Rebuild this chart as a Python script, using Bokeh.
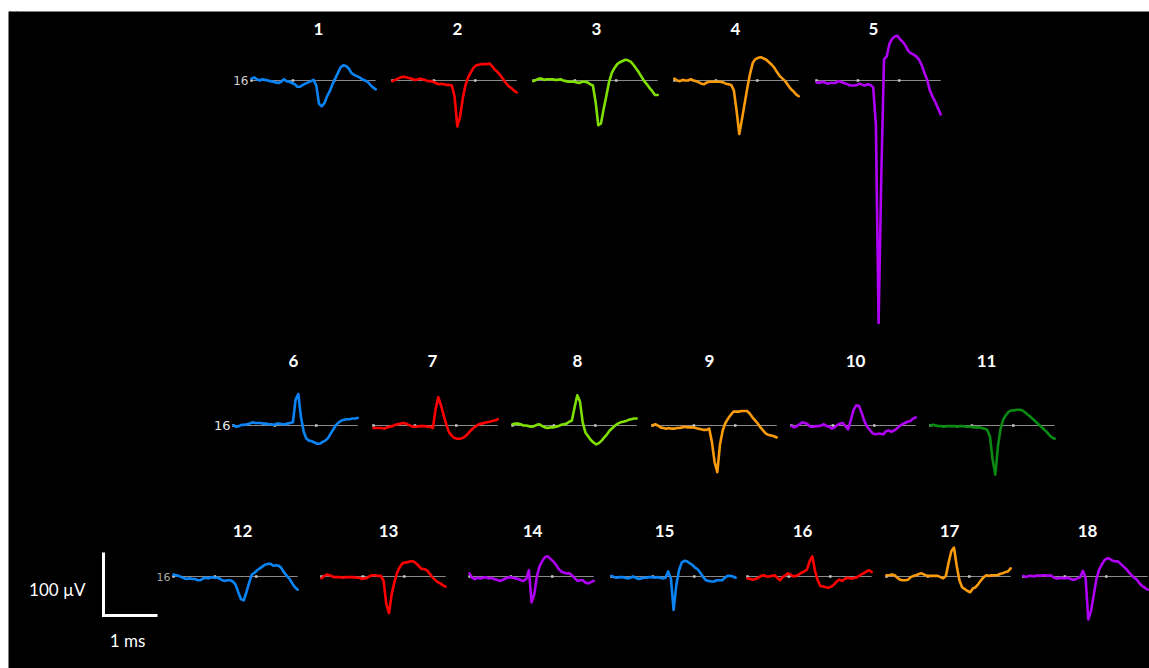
import numpy as np
from bokeh.plotting import figure
from bokeh.models import ColumnDataSource, Range1d, Label
from bokeh.core.properties import value
from bokeh.embed import file_html
from bokeh.resources import INLINE

# ---------------------------------------------------------------
# Mean spike waveforms of 18 sorted units (channel 16), in µV,
# sampled every 0.05 ms.
# ---------------------------------------------------------------
DT_MS = 0.05

unit_labels = [str(i) for i in range(1, 19)]

BLUE, RED, LIME, ORANGE, PURPLE, GREEN = (
    "#0a84f5", "#ff0000", "#7fe000", "#f99b0c", "#b000f5", "#0a8a12")
unit_colors = [BLUE, RED, LIME, ORANGE, PURPLE,
               BLUE, RED, LIME, ORANGE, PURPLE, GREEN,
               BLUE, RED, PURPLE, BLUE, RED, ORANGE, PURPLE]

u1 = [3, 5, 2, 0, 2, 1, 0, -1, -2, -3, -4, -2, 2, -1, -2, -4, -6, -10, -10, -7, -5, -3, -1, 1,
      -8, -37, -41, -36, -25, -17, -6, 3, 12, 21, 24, 23, 19, 12, 9, 7, 5, 2, 0, -2, -7, -11, -14]
u2 = [-1, 1, 3, 5, 6, 5, 4, 3, 1, 1, 3, 2, 1, -1, -1, -2, -4, -6, -5, -6, -7, -7, -8, -26,
      -73, -58, -29, -8, 5, 13, 20, 24, 25, 26, 26, 26, 27, 22, 17, 13, 8, 2, -4, -9, -12, -16, -19]
u3 = [-1, 1, 3, 3, 1, 2, 2, 2, 1, 1, 2, 0, -1, -2, -2, -2, -3, -4, -2, -2, -3, -6, -8, -34,
      -71, -68, -45, -24, -2, 12, 20, 26, 29, 31, 33, 32, 30, 25, 19, 13, 6, -1, -6, -12, -17, -23, -23]
u4 = [3, 0, -1, 1, 0, 0, 2, 0, -1, -3, -5, -6, -3, -2, -2, -2, -2, -2, -3, -5, -6, -7, -16, -48,
      -85, -61, -36, -11, 11, 28, 34, 36, 37, 35, 33, 29, 25, 20, 13, 7, 3, -1, -7, -13, -17, -22, -25]
u5 = [-3, -4, -2, -3, -5, -4, -4, -4, -1, -2, -4, -5, -7, -8, -8, -7, -5, -7, -8, -6, -7, -11,
      -70, -385, -152, 34, 38, 58, 66, 70, 71, 65, 61, 55, 47, 43, 41, 38, 33, 24, 12, 1, -16, -26,
      -34, -44, -54]
u6 = [0, -2, -1, 1, 1, 2, 3, 5, 4, 4, 4, 3, 3, 2, 2, 1, 3, 3, 2, 2, 3, 4, 5, 41, 50, 13, -10,
      -21, -24, -25, -27, -29, -29, -26, -24, -20, -13, -6, 1, 5, 8, 9, 10, 10, 11, 11, 12]
u7 = [-4, -4, -4, -4, -5, -3, -2, -1, 1, 2, 3, 4, 3, 1, -1, -2, -2, -1, -1, -1, -2, -2, -4, 26,
      45, 32, 16, 1, -11, -16, -20, -21, -21, -20, -17, -13, -8, -4, -1, 2, 3, 4, 5, 6, 7, 8, 10]
u8 = [2, 3, 3, 2, 0, 0, -1, -2, -1, 1, 2, -1, -3, -4, -3, -3, -2, -1, 1, 2, 3, 6, 8, 29, 48, 38,
      5, -11, -17, -23, -27, -30, -28, -24, -19, -14, -8, -4, 0, 3, 5, 6, 7, 9, 10, 11, 11]
u9 = [0, 2, 0, -3, -4, -5, -4, -5, -5, -4, -4, -3, -2, -3, -3, -3, -4, -5, -6, -7, -7, -5, -26,
      -58, -74, -30, -8, 4, 11, 17, 22, 22, 22, 23, 23, 23, 19, 13, 8, 3, -3, -8, -13, -15, -16, -17, -19]
u10 = [-1, -3, -1, 2, 5, 4, 2, -2, -2, -1, -1, 0, 2, -1, -2, -5, -3, 1, 3, 4, -1, -6, 9, 25, 32,
       31, 20, 7, -2, -7, -12, -14, -13, -13, -14, -9, -8, -10, -8, -5, -1, 2, 4, 6, 7, 11, 13]
u11 = [0, 1, 0, -1, -1, -2, -1, -1, -1, -1, -2, -1, -1, -2, -2, -2, -3, -3, -3, -4, -5, -7, -17,
       -54, -78, -32, -4, 10, 17, 22, 24, 24, 25, 25, 24, 21, 17, 14, 10, 6, 2, -2, -6, -10, -15, -19, -21]
u12 = [3, 2, 1, -1, -3, -4, -3, -4, -4, -6, -6, -3, -2, -3, -1, -2, -2, -3, -6, -7, -6, -6, -8,
       -13, -25, -36, -38, -25, -10, 3, 6, 10, 13, 16, 19, 20, 20, 17, 18, 17, 13, 6, 1, -4, -11, -17, -21]
u13 = [-3, 1, 3, 2, 0, -1, -1, -1, -2, -1, -1, -1, -1, -2, -2, -4, -3, -2, 1, 2, 2, 1, 1, -7,
       -44, -58, -28, -9, 6, 15, 21, 22, 23, 24, 24, 21, 17, 12, 12, 10, 5, -1, -5, -9, -11, -14, -16]
u14 = [5, -2, -4, -2, -3, -2, -1, -3, -2, -4, -5, -7, -6, -4, -2, -1, -2, -3, -4, -6, -7, -4, 10,
       -41, -28, 1, 17, 25, 31, 32, 28, 24, 19, 12, 8, 6, 5, 5, 2, -3, -7, -6, -6, -10, -11, -9, -7]
u15 = [1, -1, -2, -1, -1, -2, -3, -2, 0, -2, -4, -3, -2, -2, -1, -1, -2, -1, -2, -3, -2, 8, -3,
       -53, -14, 10, 22, 25, 24, 21, 18, 14, 11, 5, -1, -6, -7, -8, -8, -6, -6, -6, -2, 1, 1, 0, -2]
u16 = [-3, -4, -5, -4, -2, 1, 2, 0, 0, 1, 2, -2, -6, -1, 2, 5, 3, 0, 1, 3, 6, 8, 11, 24, 32, 9,
       -6, -15, -16, -17, -18, -16, -13, -8, -5, -7, -4, -2, -3, -3, -2, 0, 3, 5, 8, 10, 7]
u17 = [2, 2, 3, 2, -2, -5, -6, -6, -5, -1, 1, 2, 4, 5, 3, 1, 1, 1, 1, 1, -1, -3, 1, 22, 40, 46,
       17, -6, -17, -20, -23, -25, -19, -17, -12, -6, -1, 2, 1, 2, 2, 2, 4, 5, 7, 8, 13]
u18 = [1, -1, 1, 1, 0, 2, 1, 2, 2, 1, 2, -1, -3, -3, -2, -3, -2, -3, -5, -5, -3, -1, 9, -2, -68,
       -55, -30, -4, 11, 19, 26, 29, 28, 25, 24, 24, 20, 16, 12, 7, 2, -2, -5, -11, -15, -18, -21]

waveforms = [u1, u2, u3, u4, u5, u6, u7, u8, u9, u10, u11, u12, u13, u14, u15, u16, u17, u18]

channel_label = "16"
scale_ms = 1.0
scale_uv = 100.0

# ---------------------------------------------------------------
# Page layout (pixels on the 1149 x 668 canvas)
# ---------------------------------------------------------------
W, H = 1149, 668
LEFT, TOP = 8, 11
PX_PER_MS = 54.0
PX_PER_UV = 0.63

def ms_at(px):
    return (px - LEFT) / PX_PER_MS

def uv_at(py):
    return (H - py) / PX_PER_UV

panel_left_px = [251, 392, 533, 674, 816,
                 233, 373, 512, 652, 791, 930,
                 173, 321, 469, 611, 747, 886, 1023]
panel_row = [0] * 5 + [1] * 6 + [2] * 7
row_base_py = [80, 425, 576]
row_title_py = [28, 360, 530]
title_center_px = [318, 457, 596, 735, 873,
                   293, 432, 577, 709, 855, 986,
                   242, 388, 532, 664, 802, 949, 1087]
row_channel_px = [248, 230, 170]
row_channel_style = [("#d2d2d2", "12px"), ("#e6e6e6", "13px"), ("#a8a8a8", "11px")]

p = figure(width=W, height=H, output_backend="svg", toolbar_location=None,
           x_range=Range1d(0, (W - LEFT) / PX_PER_MS),
           y_range=Range1d(0, (H - TOP) / PX_PER_UV),
           x_axis_type=None, y_axis_type=None,
           min_border_left=LEFT, min_border_top=TOP,
           min_border_right=0, min_border_bottom=0)
p.background_fill_color = "black"
p.border_fill_color = "white"
p.outline_line_color = None
p.grid.visible = False

# baselines with thirds ticks
base_xs, base_ys, tick_x, tick_y = [], [], [], []
wave_xs, wave_ys = [], []
for k, wf in enumerate(waveforms):
    x0 = ms_at(panel_left_px[k])
    y0 = uv_at(row_base_py[panel_row[k]])
    t = np.arange(len(wf)) * DT_MS
    span = t[-1]
    wave_xs.append(list(x0 + t))
    wave_ys.append(list(y0 + np.asarray(wf, dtype=float)))
    base_xs.append([x0, x0 + span])
    base_ys.append([y0, y0])
    for f in (0.0, 1.0 / 3, 2.0 / 3):
        tick_x.append(x0 + f * span)
        tick_y.append(y0)

p.multi_line(base_xs, base_ys, line_color="#8a8a8a", line_width=1)
p.scatter(tick_x, tick_y, marker="square", size=2.5, fill_color="#c8c8c8",
          line_color=None)

waves = ColumnDataSource(dict(xs=wave_xs, ys=wave_ys, color=unit_colors))
p.multi_line("xs", "ys", source=waves, line_color="color", line_width=2.6,
             line_join="round", line_cap="round")

# unit numbers
titles = ColumnDataSource(dict(
    x=[ms_at(px) for px in title_center_px],
    y=[uv_at(row_title_py[r]) for r in panel_row],
    text=unit_labels))
p.text("x", "y", text="text", source=titles, text_color="white",
       text_font=value("Lato"), text_font_style="bold", text_font_size="17px",
       text_align="center", text_baseline="middle")

# channel label at the start of every row
for r in range(3):
    col, size = row_channel_style[r]
    p.text([ms_at(row_channel_px[r])], [uv_at(row_base_py[r])], text=[channel_label],
           text_color=col, text_font=value("DejaVu Sans"), text_font_size=size,
           text_align="right", text_baseline="middle")

# scale bar
sb_x0, sb_y0 = ms_at(103), uv_at(615)
p.line([sb_x0, sb_x0, sb_x0 + scale_ms], [sb_y0 + scale_uv, sb_y0, sb_y0],
       line_color="white", line_width=3, line_join="miter")
p.text([sb_x0 - 18 / PX_PER_MS], [sb_y0 + scale_uv * 0.42], text=["%d µV" % scale_uv],
       text_color="white", text_font=value("Lato"), text_font_size="17px",
       text_align="right", text_baseline="middle")
p.text([sb_x0 + scale_ms / 2 - 3 / PX_PER_MS], [sb_y0 - 25 / PX_PER_UV],
       text=["%d ms" % scale_ms], text_color="white", text_font=value("Lato"),
       text_font_size="17px", text_align="center", text_baseline="middle")

# panel letter in the white strip above the frame
p.add_layout(Label(x=ms_at(9), y=uv_at(10), text="c)", text_color="black",
                   text_font="Lato", text_font_size="11px",
                   text_baseline="alphabetic"))

open("out.html", "w").write(file_html(p, INLINE))
